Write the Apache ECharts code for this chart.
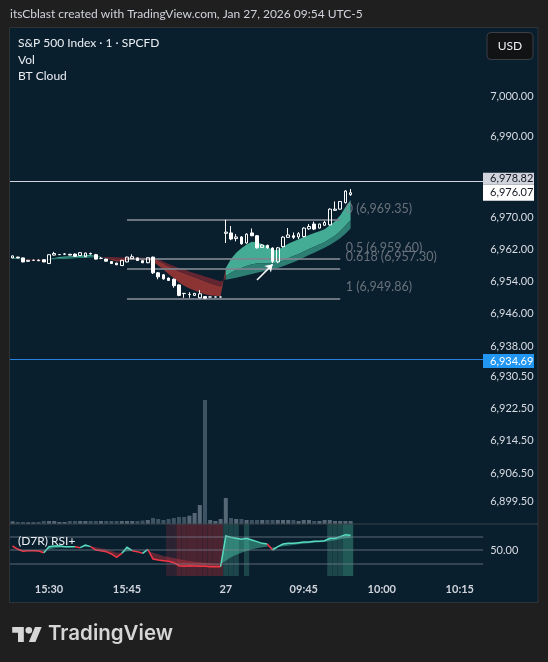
<!DOCTYPE html>
<html><head><meta charset="utf-8">
<script src="https://cdn.jsdelivr.net/npm/echarts@6/dist/echarts.min.js"></script>
<style>html,body{margin:0;padding:0;background:#1f1f1f;}#c{width:548px;height:662px;}</style>
</head><body><div id="c"></div>
<script>
// ---------- DATA ----------
const categories = [
 '15:23','15:24','15:25','15:26','15:27','15:28','15:29','15:30','15:31','15:32','15:33','15:34','15:35','15:36','15:37','15:38','15:39','15:40','15:41','15:42','15:43','15:44','15:45','15:46','15:47','15:48','15:49','15:50','15:51','15:52','15:53','15:54','15:55','15:56','15:57','15:58','15:59','16:00','16:01','16:02','16:03',
 '09:30','09:31','09:32','09:33','09:34','09:35','09:36','09:37','09:38','09:39','09:40','09:41','09:42','09:43','09:44','09:45','09:46','09:47','09:48','09:49','09:50','09:51','09:52','09:53','09:54',
 '09:55','09:56','09:57','09:58','09:59','10:00','10:01','10:02','10:03','10:04','10:05','10:06','10:07','10:08','10:09','10:10','10:11','10:12','10:13','10:14','10:15','10:16','10:17','10:18','10:19'];
const xTickCats  = ['15:30','15:45','09:30','09:45','10:00','10:15'];
const xTickTexts = ['15:30','15:45','27','09:45','10:00','10:15'];
const priceTicks = [7000, 6990, 6970, 6962, 6954, 6946, 6938, 6930.5, 6922.5, 6914.5, 6906.5, 6899.5];
const rsiTicks = [50];

const opens  = [6959.9,6960.1,6959.9,6959.05,6959.3,6959.35,6959.45,6958.5,6960.6,6960.7,6960.8,6960.8,6960.85,6960.5,6960.2,6961.0,6960.7,6959.8,6959.6,6959.0,6958.6,6958.0,6958.9,6959.7,6959.9,6959.2,6958.7,6960.1,6956.2,6955.7,6954.9,6954.6,6953.2,6951.1,6950.8,6950.6,6950.0,6950.3,6950.2,6950.2,6950.2,6966.0,6966.1,6964.7,6965.1,6963.6,6966.1,6965.4,6962.5,6963.0,6962.35,6958.9,6962.7,6965.0,6965.4,6965.1,6965.2,6967.1,6968.3,6967.3,6968.0,6968.1,6971.7,6972.0,6973.6,6975.6];
const highs  = [6960.5,6960.2,6960.0,6959.4,6959.5,6959.5,6959.5,6960.75,6961.4,6960.8,6961.1,6960.9,6961.0,6961.3,6961.2,6961.2,6960.9,6960.1,6959.7,6959.1,6958.7,6959.4,6960.2,6960.8,6960.0,6959.3,6960.0,6960.2,6956.4,6955.9,6955.0,6954.8,6953.3,6951.2,6951.4,6951.2,6951.9,6950.4,6950.25,6950.25,6950.25,6969.35,6967.8,6965.8,6965.3,6966.0,6967.2,6965.6,6963.3,6963.2,6962.5,6962.6,6965.3,6967.3,6966.2,6966.3,6967.5,6968.3,6968.9,6968.4,6969.1,6972.2,6973.9,6974.0,6976.7,6977.0];
const lows   = [6959.8,6959.8,6958.8,6959.0,6959.2,6959.1,6958.85,6958.45,6960.5,6960.7,6960.7,6960.55,6960.25,6960.4,6960.1,6960.7,6959.5,6959.6,6959.0,6958.4,6958.1,6957.9,6958.8,6959.6,6959.2,6958.6,6958.6,6955.9,6954.6,6954.5,6954.2,6952.5,6950.4,6950.0,6950.0,6950.5,6949.9,6949.86,6950.15,6950.15,6950.15,6963.6,6964.3,6964.0,6963.2,6963.4,6965.3,6962.2,6962.4,6962.2,6958.6,6958.6,6962.5,6964.9,6964.6,6964.6,6965.0,6966.9,6966.8,6967.2,6967.9,6967.9,6971.6,6971.9,6973.4,6975.3];
const closes = [6960.4,6959.9,6958.9,6959.3,6959.3,6959.2,6958.9,6960.7,6961.0,6960.75,6960.9,6960.6,6960.3,6961.2,6961.1,6960.9,6959.6,6959.8,6959.1,6958.5,6958.2,6959.3,6960.1,6960.2,6959.25,6958.7,6959.95,6956.2,6955.2,6954.7,6954.3,6953.0,6950.6,6951.05,6950.85,6951.1,6951.0,6949.9,6950.2,6950.2,6950.2,6966.3,6964.6,6965.1,6963.4,6965.8,6965.4,6962.4,6963.1,6962.4,6959.05,6962.4,6965.05,6965.6,6965.0,6965.9,6967.3,6967.7,6967.05,6968.3,6968.7,6972.0,6972.0,6973.9,6976.5,6976.07];
const volumes = [2.7,2,2,1.7,1.7,2,3,3,3,2,2,3,3,3,3,3,3,3,3,3,3,3,3,3,3,3.5,4,6,5,4,5,6,7,7,8.3,11,19,124,4,3,5,26,6,5,5,4,4,4,4,4,4,4,4,4,4,3,4,4,3,3,4,4,3,3,3,3];

// BT Cloud lines
const btFast = [6960.0,6959.9,6959.5,6959.35,6959.3,6959.3,6959.2,6959.6,6959.9,6960.1,6960.25,6960.3,6960.35,6960.45,6960.6,6960.65,6960.4,6960.2,6959.8,6959.4,6959.0,6959.1,6959.3,6959.5,6959.5,6959.3,6959.4,6959.0,6958.0,6957.0,6955.9,6954.9,6953.8,6953.0,6952.3,6951.8,6951.3,6950.9,6950.6,6950.5,6950.4,6957.4,6959.6,6961.2,6962.3,6963.2,6963.9,6963.8,6963.3,6962.8,6961.8,6961.9,6962.6,6963.4,6964.0,6964.5,6965.1,6965.6,6966.1,6966.5,6967.0,6968.0,6969.0,6970.4,6972.5,6974.3];
const btMid  = [6959.8,6959.75,6959.5,6959.4,6959.4,6959.4,6959.35,6959.55,6959.7,6959.85,6959.95,6960.0,6960.05,6960.15,6960.25,6960.3,6960.2,6960.15,6959.95,6959.75,6959.5,6959.55,6959.65,6959.75,6959.75,6959.6,6959.65,6959.8,6959.2,6958.5,6957.8,6957.2,6956.6,6956.1,6955.6,6955.1,6954.6,6954.1,6953.6,6953.2,6952.8,6955.4,6956.2,6956.9,6957.4,6957.9,6958.3,6958.5,6958.5,6958.6,6958.5,6958.8,6959.2,6959.8,6960.4,6960.9,6961.5,6962.1,6962.7,6963.2,6963.8,6964.6,6965.4,6966.5,6967.9,6969.3];
const btSlow = [6959.6,6959.6,6959.55,6959.5,6959.5,6959.45,6959.45,6959.5,6959.55,6959.6,6959.65,6959.7,6959.8,6959.85,6959.9,6960.0,6960.05,6960.1,6960.1,6960.1,6960.05,6960.0,6960.0,6960.0,6960.0,6959.95,6959.9,6960.0,6959.6,6959.0,6958.4,6957.9,6957.4,6957.0,6956.5,6956.1,6955.7,6955.3,6954.9,6954.5,6954.1,6954.5,6954.7,6955.0,6955.3,6955.6,6955.9,6956.2,6956.5,6956.8,6957.1,6957.4,6957.8,6958.3,6958.8,6959.4,6960.0,6960.6,6961.2,6961.8,6962.4,6963.1,6963.9,6964.8,6965.9,6967.2];

// RSI+
const rsi    = [55.9,51.0,48.1,49.0,49.0,48.5,46.1,54.9,55.9,56.3,54.9,54.9,54.9,53.4,57.3,54.9,50.0,49.0,47.6,44.2,39.3,45.1,53.9,49.0,47.6,45.1,51.0,36.9,35.4,34.4,33.4,31.5,27.1,26.1,27.1,26.6,26.1,26.1,25.6,25.6,25.6,70.5,68.5,67.1,65.6,67.1,64.6,62.2,59.7,58.8,50.0,54.9,58.8,59.7,59.7,60.7,61.7,61.7,62.7,62.7,63.6,67.1,67.1,69.5,72.4,71.4];
const rsiSig = [52.0,52.5,50.0,49.5,49.5,49.5,49.0,51.0,52.4,53.4,53.9,53.9,54.4,53.9,54.9,54.9,53.9,52.4,51.0,49.0,46.1,46.1,48.1,48.5,48.1,47.1,48.5,46.1,43.7,41.2,39.8,38.3,36.4,34.9,33.9,33.0,32.0,31.5,30.5,30.0,29.0,34.4,39.3,43.2,46.1,48.5,51.0,52.4,53.9,54.9,53.9,54.4,55.4,56.3,57.3,58.3,59.3,59.7,60.7,61.2,61.7,63.2,64.1,65.6,67.1,67.5];
const rsiLevels = [70, 50, 30];
const rsiBgCode = [0,0,0,0,0,0,0,0,0,0,0,0,0,0,0,0,0,0,0,0,0,0,0,0,0,0,0,0,0,0,1,1,2,2,2,2,2,2,2,2,2,3,3,3,0,3,0,0,0,0,0,0,0,0,0,0,0,0,0,0,0,3,3,3,4,4];

// Fibonacci retracement
const fibLevels = [6969.35, 6959.60, 6957.30, 6949.86];
const fibTexts  = ['0 (6,969.35)', '0.5 (6,959.60)', '0.618 (6,957.30)', '1 (6,949.86)'];
const fibFromIdx = 22, fibToIdx = 63;
// Arrow drawing
const arrowFrom = [47, 6954.4], arrowTo = [50, 6958.3];
// Horizontal price lines
const lastPrice = 6976.07, whiteLine = 6978.82, blueLine = 6934.69;

// ---------- STYLE ----------
const FONT = 'Lato, "Liberation Sans", sans-serif';
const BG = '#0a1f2d';
const GL = 10, GR = 548 - 483.2;
const fmt = v => v.toLocaleString('en-US', {minimumFractionDigits: 2, maximumFractionDigits: 2});
const bgColors = [null, '#2c2232', '#4b2431', '#1c4649', '#205956'];

function bands(api, top, bot, signFn, colUp, colDn) {
  const out = []; const n = top.length; let i = 0;
  while (i < n - 1) {
    const s = signFn(i); let j = i;
    while (j + 1 < n - 1 && signFn(j + 1) === s) j++;
    const pts = [];
    for (let k = i; k <= j + 1; k++) pts.push(api.coord([k, top[k]]));
    for (let k = j + 1; k >= i; k--) pts.push(api.coord([k, bot[k]]));
    out.push({type: 'polygon', shape: {points: pts}, style: {fill: s ? colUp : colDn}});
    i = j + 1;
  }
  return out;
}
function lines(api, vals, signFn, colUp, colDn, w) {
  const out = []; const n = vals.length; let i = 0;
  while (i < n - 1) {
    const s = signFn(i); let j = i;
    while (j + 1 < n - 1 && signFn(j + 1) === s) j++;
    const pts = [];
    for (let k = i; k <= j + 1; k++) pts.push(api.coord([k, vals[k]]));
    out.push({type: 'polyline', shape: {points: pts}, style: {stroke: s ? colUp : colDn, lineWidth: w, fill: null}});
    i = j + 1;
  }
  return out;
}
const btSign = i => (btFast[i] + btFast[i + 1]) >= (btSlow[i] + btSlow[i + 1]);
const rsiSign = i => rsi[i + 1] >= rsiSig[i + 1];

const chart = echarts.init(document.getElementById('c'), null, {renderer: 'canvas'});
const xAxisBase = {type: 'category', data: categories, boundaryGap: true,
  axisLine: {show: false}, axisTick: {show: false}, splitLine: {show: false}, axisLabel: {show: false}};

chart.setOption({
  animation: false,
  backgroundColor: '#1f1f1f',
  grid: [
    {left: GL, right: GR, top: 27, height: 497},
    {left: GL, right: GR, top: 380, height: 144},
    {left: GL, right: GR, top: 524, height: 52}
  ],
  xAxis: [
    Object.assign({}, xAxisBase, {gridIndex: 0}),
    Object.assign({}, xAxisBase, {gridIndex: 1}),
    Object.assign({}, xAxisBase, {gridIndex: 2, axisLabel: {
      show: true, margin: 8, color: '#d1d4dc', fontSize: 11, fontWeight: 'bold', fontFamily: FONT,
      interval: (idx, val) => xTickCats.indexOf(val) >= 0,
      formatter: (val) => xTickTexts[xTickCats.indexOf(val)]
    }})
  ],
  yAxis: [
    {type: 'value', gridIndex: 0, position: 'right', min: 6893.87, max: 7017.2, scale: true,
     splitLine: {show: false}, axisLine: {show: false}, axisTick: {show: false},
     axisLabel: {customValues: priceTicks, formatter: v => fmt(v), color: '#d8dbe2', fontSize: 11,
       fontFamily: FONT, align: 'left', margin: 7}},
    {type: 'value', gridIndex: 1, min: 0, max: 144, show: false, splitLine: {show: false}},
    {type: 'value', gridIndex: 2, position: 'right', min: 12, max: 88,
     splitLine: {show: false}, axisLine: {show: false}, axisTick: {show: false},
     axisLabel: {customValues: rsiTicks, formatter: v => fmt(v), color: '#d8dbe2', fontSize: 11,
       fontFamily: FONT, align: 'left', margin: 7}}
  ],
  series: [
    {type: 'custom', name: 'BT Cloud', xAxisIndex: 0, yAxisIndex: 0, z: 1, silent: true,
     data: [[0, 6960]],
     renderItem: (p, api) => ({type: 'group', children: [
       ...bands(api, btFast, btMid, btSign, '#44ab94', '#8c3334'),
       ...bands(api, btMid, btSlow, btSign, '#2c7d72', '#632532')
     ]})},
    {type: 'scatter', name: 'fib', xAxisIndex: 0, yAxisIndex: 0, z: 3, silent: true,
     symbolSize: 1, itemStyle: {color: 'rgba(0,0,0,0)'},
     data: fibLevels.map((v, k) => ({value: [fibToIdx, v], name: fibTexts[k]})),
     label: {show: true, position: 'right', distance: 5, offset: [0, -11], formatter: '{b}',
       color: '#80868f', fontSize: 12.5, fontFamily: FONT},
     markLine: {silent: true, symbol: ['none', 'none'], label: {show: false},
       lineStyle: {color: 'rgba(125,132,142,0.85)', width: 2, type: 'solid'},
       data: fibLevels.map(v => [{coord: [fibFromIdx, v]}, {coord: [fibToIdx, v]}])}},
    {type: 'bar', name: 'Vol', xAxisIndex: 1, yAxisIndex: 1, z: 2, barWidth: 4, silent: true,
     data: volumes.map((v, i) => ({value: v, itemStyle: {color: closes[i] >= opens[i] ? '#566876' : '#3d5262'}}))},
    {type: 'candlestick', name: 'S&P 500', xAxisIndex: 0, yAxisIndex: 0, z: 5, barWidth: 3,
     data: opens.map((o, i) => [o, closes[i], lows[i], highs[i]]),
     itemStyle: {color: 'rgba(0,0,0,0)', color0: '#ffffff', borderColor: '#ffffff', borderColor0: '#ffffff',
       borderColorDoji: '#ffffff', borderWidth: 1},
     markLine: {silent: true, symbol: ['none', 'none'], label: {show: false},
       data: [
         {yAxis: whiteLine, lineStyle: {color: '#d1d4dc', width: 1, type: 'solid'}},
         {yAxis: blueLine, lineStyle: {color: '#2a7fe0', width: 1, type: 'solid'}},
         [{coord: arrowFrom, symbol: 'none', lineStyle: {color: '#ffffff', width: 1.5, type: 'solid'}},
          {coord: arrowTo, symbol: 'arrow', symbolSize: 7}]
       ]}},
    {type: 'bar', name: 'rsiBg', xAxisIndex: 2, yAxisIndex: 2, z: 1, silent: true,
     barWidth: '100%', barCategoryGap: '0%',
     data: rsiBgCode.map(c => c ? {value: 88, itemStyle: {color: bgColors[c]}} : '-'),
     markLine: {silent: true, symbol: ['none', 'none'], label: {show: false},
       lineStyle: {color: 'rgba(125,135,148,0.35)', width: 2, type: 'solid'},
       data: rsiLevels.map(v => ({yAxis: v}))}},
    {type: 'custom', name: 'RSI+', xAxisIndex: 2, yAxisIndex: 2, z: 4, silent: true,
     data: [[0, 50]],
     renderItem: (p, api) => ({type: 'group', children: [
       ...bands(api, rsi, rsiSig, rsiSign, 'rgba(77,208,177,0.45)', 'rgba(242,54,69,0.35)'),
       ...lines(api, rsi, rsiSign, '#58dcc0', '#f23645', 1.5)
     ]})}
  ]
});

const yPix = v => chart.convertToPixel({yAxisIndex: 0}, v);
function priceTag(v, dy, h, fill, textFill) {
  const yc = yPix(v) + dy;
  return [
    {type: 'rect', z: 100, shape: {x: 483, y: yc - h / 2, width: 51, height: h}, style: {fill: fill}},
    {type: 'text', z: 101, x: 490, y: yc, style: {text: fmt(v), fill: textFill, fontSize: 11, fontFamily: FONT, verticalAlign: 'middle'}}
  ];
}
// TradingView logo (graphic, not data)
const S = 0.83, LX = 12.2, LY = 623.7;
const lp = pts => pts.map(p => [LX + p[0] * S, LY + p[1] * S]);
chart.setOption({graphic: [
  {type: 'rect', z: -10, silent: true, shape: {x: 9.5, y: 27.5, width: 528.5, height: 575}, style: {fill: BG, stroke: '#2f3338', lineWidth: 1}},
  {type: 'text', z: 50, x: 10, y: 14, style: {text: 'itsCblast created with TradingView.com, Jan 27, 2026 09:54 UTC-5', fill: '#d1d4dc', fontSize: 12, fontFamily: FONT, verticalAlign: 'middle'}},
  {type: 'text', z: 50, x: 18, y: 43, style: {text: 'S&P 500 Index · 1 · SPCFD', fill: '#eceff4', fontSize: 12, fontFamily: FONT, verticalAlign: 'middle'}},
  {type: 'text', z: 50, x: 18, y: 60, style: {text: 'Vol', fill: '#eceff4', fontSize: 12, fontFamily: FONT, verticalAlign: 'middle'}},
  {type: 'text', z: 50, x: 18, y: 76, style: {text: 'BT Cloud', fill: '#eceff4', fontSize: 12, fontFamily: FONT, verticalAlign: 'middle'}},
  {type: 'rect', z: 50, shape: {x: 487, y: 32.5, width: 46, height: 27, r: 4}, style: {fill: '#111315', stroke: '#3b3f46', lineWidth: 1}},
  {type: 'text', z: 51, x: 510, y: 46, style: {text: 'USD', fill: '#eceff4', fontSize: 12, fontFamily: FONT, align: 'center', verticalAlign: 'middle'}},
  {type: 'line', z: 50, shape: {x1: 9.5, y1: 524, x2: 538, y2: 524}, style: {stroke: '#3a434d', lineWidth: 1}},
  {type: 'text', z: 50, x: 18, y: 541, style: {text: '(D7R) RSI+', fill: '#eceff4', fontSize: 12, fontFamily: FONT, verticalAlign: 'middle'}},
  ...priceTag(whiteLine, -3, 12, '#d1d4dc', '#131722'),
  ...priceTag(lastPrice, 0, 16, '#ffffff', '#131722'),
  ...priceTag(blueLine, 1.5, 14, '#2196f3', '#ffffff'),
  {type: 'polygon', z: 50, shape: {points: lp([[14,22],[7,22],[7,11],[0,11],[0,4],[14,4]])}, style: {fill: '#d6d6d6'}},
  {type: 'polygon', z: 50, shape: {points: lp([[28,22],[20,22],[27.5,4],[35.5,4]])}, style: {fill: '#d6d6d6'}},
  {type: 'circle', z: 50, shape: {cx: LX + 20 * S, cy: LY + 8 * S, r: 4 * S}, style: {fill: '#d6d6d6'}},
  {type: 'text', z: 50, x: 48, y: 634, style: {text: 'TradingView', fill: '#d6d6d6', fontSize: 20.5, fontWeight: 600, fontFamily: 'Inter, Lato, sans-serif', verticalAlign: 'middle'}}
]});
</script></body></html>
